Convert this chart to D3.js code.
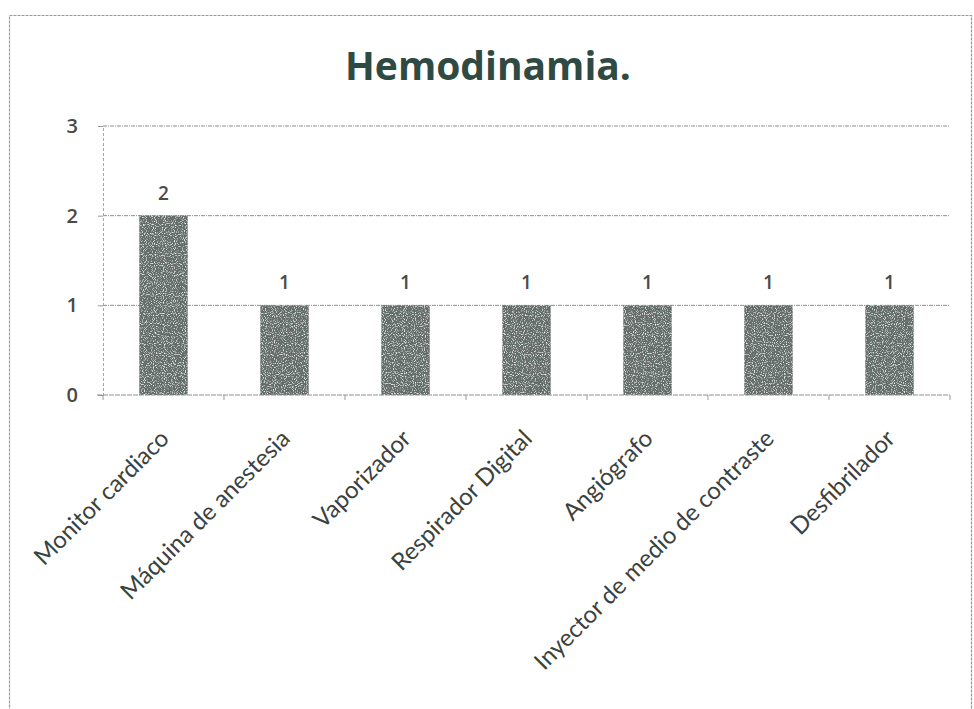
<!DOCTYPE html>
<html>
<head>
<meta charset="utf-8">
<script src="https://cdn.jsdelivr.net/npm/d3@7"></script>
<style>
  html, body { margin: 0; padding: 0; background: #fff; }
  svg { display: block; }
</style>
</head>
<body>
<svg id="chart" width="974" height="709"></svg>
<script>
// Equipment counts for the Hemodinamia unit
const categories = [
  "Monitor cardiaco",
  "Máquina de anestesia",
  "Vaporizador",
  "Respirador Digital",
  "Angiógrafo",
  "Inyector de medio de contraste",
  "Desfibrilador"
];
const values = [2, 1, 1, 1, 1, 1, 1];
const yTicks = [0, 1, 2, 3];
const title = "Hemodinamia.";

const W = 974, H = 709;
const margin = { left: 103, right: 24, top: 126, bottom: 314 };
const svg = d3.select("#chart");

// speckled texture for the bars
const defs = svg.append("defs");
const flt = defs.append("filter").attr("id", "grain")
  .attr("x", 0).attr("y", 0).attr("width", 1).attr("height", 1);
flt.append("feTurbulence").attr("type", "fractalNoise")
  .attr("baseFrequency", 0.9).attr("numOctaves", 1).attr("seed", 3).attr("result", "noise");
flt.append("feColorMatrix").attr("in", "noise").attr("type", "matrix")
  .attr("values", "0 0 0 0 1  0 0 0 0 1  0 0 0 0 1  0 0 0 -3.2 1.55").attr("result", "spots");
flt.append("feComposite").attr("in", "spots").attr("in2", "SourceGraphic").attr("operator", "in").attr("result", "sp");
flt.append("feMerge").call(m => {
  m.append("feMergeNode").attr("in", "SourceGraphic");
  m.append("feMergeNode").attr("in", "sp");
});

// outer frame
svg.append("rect")
  .attr("x", 9.5).attr("y", 15.5).attr("width", 962).attr("height", 700)
  .attr("fill", "#fff").attr("stroke", "#9a9a9a").attr("stroke-width", 1.2)
  .attr("stroke-dasharray", "3,1");

const x = d3.scaleBand()
  .domain(categories)
  .range([margin.left, W - margin.right])
  .paddingInner(0.6).paddingOuter(0.3);

const y = d3.scaleLinear()
  .domain([0, 3])
  .range([H - margin.bottom, margin.top]);

// title
svg.append("text")
  .attr("x", 488).attr("y", 80)
  .attr("text-anchor", "middle")
  .attr("font-family", "'Open Sans', 'DejaVu Sans', sans-serif")
  .attr("font-weight", "bold")
  .attr("font-size", 39)
  .attr("fill", "#2f4a42")
  .text(title);

// horizontal gridlines
svg.append("g")
  .selectAll("line")
  .data(yTicks.filter(d => d > 0))
  .join("line")
  .attr("x1", margin.left).attr("x2", W - margin.right)
  .attr("y1", d => y(d)).attr("y2", d => y(d))
  .attr("stroke", "#8f8f8f").attr("stroke-width", 1)
  .attr("stroke-dasharray", "4,1,1,1");

// y axis
const yAxis = svg.append("g")
  .attr("transform", `translate(${margin.left},0)`)
  .call(d3.axisLeft(y).tickValues(yTicks).tickFormat(d3.format("d")).tickSize(5).tickPadding(20));
yAxis.select(".domain").attr("stroke", "#a8a8a8").attr("stroke-dasharray", "3,2");
yAxis.selectAll(".tick line").attr("stroke", "#999");
yAxis.selectAll("text")
  .attr("font-family", "'Open Sans', 'DejaVu Sans', sans-serif")
  .attr("font-size", 20).attr("font-weight", "600")
  .attr("fill", "#4a4a44");

// bars
svg.append("g")
  .selectAll("rect")
  .data(values)
  .join("rect")
  .attr("x", (d, i) => x(categories[i]))
  .attr("width", x.bandwidth())
  .attr("y", d => y(d))
  .attr("height", d => y(0) - y(d))
  .attr("fill", "#646d6b")
  .attr("filter", "url(#grain)");

// value labels
svg.append("g")
  .selectAll("text")
  .data(values)
  .join("text")
  .attr("x", (d, i) => x(categories[i]) + x.bandwidth() / 2)
  .attr("y", d => y(d) - 16)
  .attr("text-anchor", "middle")
  .attr("font-family", "'Open Sans', 'DejaVu Sans', sans-serif")
  .attr("font-size", 19).attr("font-weight", "600")
  .attr("fill", "#4a4a4a")
  .text(d => d);

// x axis line with boundary ticks
const xAxisG = svg.append("g").attr("transform", `translate(0,${y(0)})`);
xAxisG.append("line")
  .attr("x1", margin.left - 6).attr("x2", W - margin.right)
  .attr("stroke", "#8f8f8f").attr("stroke-width", 1.2)
  .attr("stroke-dasharray", "5,1");
xAxisG.selectAll("line.tk")
  .data(d3.range(categories.length + 1))
  .join("line").attr("class", "tk")
  .attr("x1", i => margin.left + i * x.step())
  .attr("x2", i => margin.left + i * x.step())
  .attr("y1", 0).attr("y2", 5)
  .attr("stroke", "#999");

// rotated category labels
svg.append("g")
  .selectAll("text")
  .data(categories)
  .join("text")
  .attr("transform", d => `translate(${x(d) + x.bandwidth() / 2 + 7},${y(0) + 45}) rotate(-45)`)
  .attr("text-anchor", "end")
  .attr("font-family", "Lato, 'Open Sans', sans-serif")
  .attr("font-size", 24)
  .attr("fill", "#3b423e")
  .text(d => d);
</script>
</body>
</html>
